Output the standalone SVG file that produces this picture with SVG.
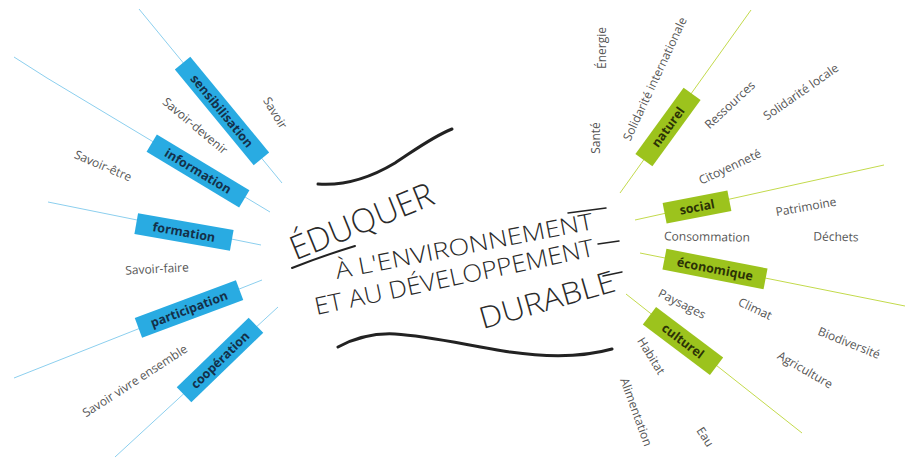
<svg xmlns="http://www.w3.org/2000/svg" width="906" height="458" viewBox="0 0 906 458">
<style>
.bl{stroke:#8ccfee;stroke-width:1;fill:none}
.gl{stroke:#c3da4c;stroke-width:1;fill:none}
.bb{fill:#29abe2}
.gb{fill:#9cc31d}
.bt{font-family:"Open Sans","Liberation Sans",sans-serif;font-size:12.5px;font-weight:700;fill:#143049;text-anchor:middle}
.gt{font-family:"Open Sans","Liberation Sans",sans-serif;font-size:12.5px;font-weight:700;fill:#2b3206;text-anchor:middle}
.lb{font-family:"Open Sans","Liberation Sans",sans-serif;font-size:12px;fill:#555;text-anchor:middle}
.hw{font-family:"Open Sans","Liberation Sans",sans-serif;font-weight:300;fill:#2a2a2a;text-anchor:middle}
.sw{stroke:#222;fill:none;stroke-linecap:round}
</style>
<rect width="906" height="458" fill="#fff"/>
<g id="connectors">
<line class="bl" x1="139" y1="9" x2="282" y2="183"/>
<polyline class="bl" points="14,57 47,78 270,212"/>
<line class="bl" x1="48" y1="202" x2="261" y2="245"/>
<line class="bl" x1="14" y1="378" x2="262" y2="280"/>
<line class="bl" x1="115" y1="457" x2="278" y2="307"/>
<line class="gl" x1="620" y1="193" x2="751" y2="10"/>
<line class="gl" x1="635" y1="220" x2="884" y2="165"/>
<line class="gl" x1="640" y1="253" x2="905" y2="306"/>
<line class="gl" x1="626" y1="294" x2="802" y2="433"/>
</g>
<g id="sensibilisation" transform="translate(222,111) rotate(50.5)"><rect class="bb" x="-62" y="-10" width="124" height="20"/><text class="bt" y="4.5">sensibilisation</text></g>
<g id="information" transform="translate(198,171) rotate(31)"><rect class="bb" x="-54" y="-10" width="108" height="20"/><text class="bt" y="4.5">information</text></g>
<g id="formation" transform="translate(184,232) rotate(10)"><rect class="bb" x="-48.5" y="-10.5" width="97" height="21"/><text class="bt" y="4.5">formation</text></g>
<g id="participation" transform="translate(189,309) rotate(-20.5)"><rect class="bb" x="-54" y="-10.5" width="108" height="21"/><text class="bt" y="4.5">participation</text></g>
<g id="cooperation" transform="translate(220,360) rotate(-44)"><rect class="bb" x="-50" y="-10.5" width="100" height="21"/><text class="bt" y="4.5">coopération</text></g>
<g id="naturel" transform="translate(668,127) rotate(-54)"><rect class="gb" x="-41" y="-10.5" width="82" height="21"/><text class="gt" y="4.5">naturel</text></g>
<g id="social" transform="translate(697,207) rotate(-11)"><rect class="gb" x="-33" y="-10.5" width="66" height="21"/><text class="gt" y="4.5">social</text></g>
<g id="economique" transform="translate(715,269) rotate(11)"><rect class="gb" x="-51.5" y="-10.5" width="103" height="21"/><text class="gt" y="4.5">économique</text></g>
<g id="culturel" transform="translate(683,341) rotate(37)"><rect class="gb" x="-42" y="-11" width="84" height="22"/><text class="gt" y="4.5">culturel</text></g>
<g id="labels">
<text class="lb" transform="translate(275,113) rotate(59)" y="4">Savoir</text>
<text class="lb" transform="translate(195,126) rotate(40)" y="4">Savoir-devenir</text>
<text class="lb" transform="translate(103,166) rotate(23)" y="4">Savoir-être</text>
<text class="lb" transform="translate(157,269) rotate(-3)" y="4">Savoir-faire</text>
<text class="lb" transform="translate(135,381) rotate(-33)" y="4">Savoir vivre ensemble</text>
<text class="lb" transform="translate(596,138) rotate(-90)" y="4">Santé</text>
<text class="lb" transform="translate(602,48) rotate(-90)" y="4">Énergie</text>
<text class="lb" transform="translate(655,79) rotate(-65)" y="4">Solidarité internationale</text>
<text class="lb" transform="translate(730,105) rotate(-43)" y="4">Ressources</text>
<text class="lb" transform="translate(801,92) rotate(-35)" y="4">Solidarité locale</text>
<text class="lb" transform="translate(730,167) rotate(-25)" y="4">Citoyenneté</text>
<text class="lb" transform="translate(806,207) rotate(-10)" y="4">Patrimoine</text>
<text class="lb" transform="translate(707,237) rotate(1)" y="4">Consommation</text>
<text class="lb" transform="translate(836,237) rotate(1)" y="4">Déchets</text>
<text class="lb" transform="translate(682,304) rotate(27)" y="4">Paysages</text>
<text class="lb" transform="translate(755,309) rotate(25)" y="4">Climat</text>
<text class="lb" transform="translate(849,343) rotate(22)" y="4">Biodiversité</text>
<text class="lb" transform="translate(805,370) rotate(30)" y="4">Agriculture</text>
<text class="lb" transform="translate(651,356) rotate(58)" y="4">Habitat</text>
<text class="lb" transform="translate(636,412) rotate(70)" y="4">Alimentation</text>
<text class="lb" transform="translate(705,437) rotate(57)" y="4">Eau</text>
</g>
<g id="title">
<path class="sw" stroke-width="3" d="M318,184 C345,186 370,178 395,163 C415,150 432,137 452,129"/>
<path class="sw" stroke-width="2" d="M292,268 C312,260 332,253 355,246"/>
<path class="sw" stroke-width="3" d="M338,347 C355,338 375,333 395,334 C430,336 470,346 510,352 C545,357 580,358 612,349"/>
<path class="sw" stroke-width="1.5" d="M568,213 L606,208"/>
<path class="sw" stroke-width="1.5" d="M598,244 L619,241"/>
<path class="sw" stroke-width="1.5" d="M603,276 L622,272"/>
<text class="hw" font-size="33" transform="translate(366,232) rotate(-22)" textLength="152" lengthAdjust="spacingAndGlyphs">ÉDUQUER</text>
<text class="hw" font-size="23" transform="translate(465.6,254) rotate(-11)" textLength="262" lengthAdjust="spacingAndGlyphs">À L'ENVIRONNEMENT</text>
<text class="hw" font-size="24" transform="translate(455.8,285.4) rotate(-12)" textLength="285" lengthAdjust="spacingAndGlyphs">ET AU DÉVELOPPEMENT</text>
<text class="hw" font-size="30" transform="translate(550,310) rotate(-16)" textLength="140" lengthAdjust="spacingAndGlyphs">DURABLE</text>
</g>
</svg>
